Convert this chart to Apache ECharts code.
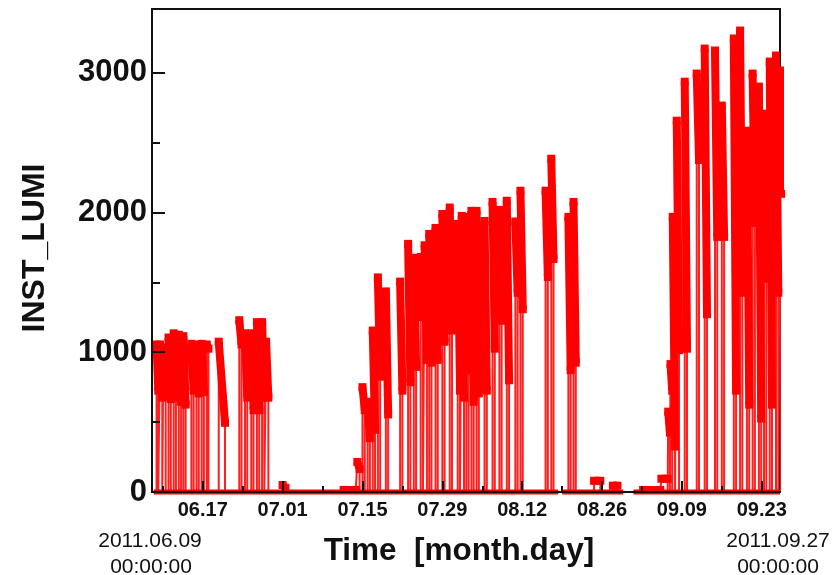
<!DOCTYPE html>
<html>
<head>
<meta charset="utf-8">
<script src="https://cdn.jsdelivr.net/npm/echarts@6/dist/echarts.min.js"></script>
<style>html,body{margin:0;padding:0;background:#fff}#c{width:833px;height:575px}</style>
</head>
<body>
<div id="c"></div>
<script>
// x values are days since 2011-06-09 00:00
const fillStart = [-0.1,0.5,1.1,2.0,2.9,3.8,4.6,6.0,6.9,7.8,8.7,10.8,14.4,15.4,16.5,17.5,18.4,19.1,22.0,
  32.7,35.1,36.0,36.9,37.8,38.7,40.1,42.6,44.0,45.0,46.2,46.9,47.7,48.8,50.0,51.3,52.7,53.4,54.2,55.1,56.0,57.4,58.8,60.0,61.3,62.8,63.7,68.1,69.1,72.1,73.0,
  76.6,79.9,85.2,88.4,89.6,90.0,90.4,91.1,92.5,94.6,96.0,97.8,99.0,101.1,102.2,103.4,104.4,105.5,106.4,107.4,108.5,109.2];
const fillEnd = [0.2,0.9,1.5,2.4,3.3,4.2,5.0,6.4,7.3,8.2,9.0,11.9,14.8,15.8,16.9,17.9,18.8,19.5,22.5,
  34.8,35.5,36.4,37.3,38.2,39.1,40.5,43.0,44.4,45.4,46.6,47.3,48.1,49.2,50.4,51.7,53.1,53.8,54.6,55.5,56.4,57.8,59.2,60.4,61.7,63.2,64.1,68.5,69.5,72.5,73.4,
  77.7,80.7,88.2,89.5,89.9,90.3,90.8,91.5,92.9,95.0,96.4,98.2,99.4,101.5,102.6,103.8,104.8,105.9,106.8,107.8,108.9,109.4];
const fillPeak = [1055,1055,1035,1105,1135,1125,1115,1060,1055,1060,1055,1075,1229,1135,1135,1215,1215,1075,50,
  15,215,750,645,1155,1535,1435,1505,1775,1675,1681,1765,1846,1889,1989,2035,1918,1975,1968,2011,2011,1939,2075,2018,2083,1935,2155,2155,2384,1968,2075,
  80,45,15,95,575,915,1968,2656,2935,2993,3172,3158,2764,3244,3301,2584,2993,2900,2706,3079,3122,3015];
const fillLast = [725,675,685,665,675,645,625,725,705,715,1025,495,1055,675,585,585,675,675,30,
  15,165,585,385,445,825,555,725,785,895,1251,945,925,945,1075,1155,725,675,871,645,705,725,1025,1225,799,1425,1308,1538,1667,871,925,
  80,45,15,95,425,725,325,1015,1025,2375,1272,1825,1825,725,1425,625,1925,525,1525,625,1425,2133];
// intervals where the recorded value sits at zero
const zeroStart = [-0.6, 71.0, 83.5];
const zeroEnd = [70.3, 81.7, 109.2];
// axis ticks
const majorTickDays = [8,22,36,50,64,78,92,106];
const minorTickDays = [1,15,29,43,57,71,85,99];
const yTicks = [0,1000,2000,3000];

function dayLabel(d){
  const t = new Date(Date.UTC(2011,5,9) + d*86400000);
  const m = String(t.getUTCMonth()+1).padStart(2,'0');
  const dd = String(t.getUTCDate()).padStart(2,'0');
  return m + '.' + dd;
}

const thin = [], thick = [], zero = [];
for (let i = 0; i < fillStart.length; i++) {
  thin.push([fillStart[i],0],[fillStart[i],fillPeak[i]],[fillEnd[i],fillLast[i]],[fillEnd[i],0]);
  thick.push([fillStart[i],fillPeak[i]],[fillEnd[i],fillLast[i]],[fillEnd[i],null]);
}
for (let i = 0; i < zeroStart.length; i++) {
  zero.push([zeroStart[i],0],[zeroEnd[i],0],[zeroEnd[i],null]);
}

const FONT = 'Liberation Sans';
const chart = echarts.init(document.getElementById('c'), null, {renderer:'canvas'});
chart.setOption({
  animation: false,
  backgroundColor: '#fff',
  grid: {left:152, right:53, top:9, bottom:83, show:true, borderColor:'#111', borderWidth:2, backgroundColor:'transparent'},
  xAxis: [{
    type:'value', min:-0.9, max:109.2, position:'bottom', z:10,
    axisLine:{show:true, onZero:false, lineStyle:{color:'#111', width:2}},
    axisTick:{show:true, inside:true, length:11, customValues:majorTickDays, lineStyle:{color:'#111', width:2}},
    axisLabel:{show:true, customValues:majorTickDays, margin:8, formatter:function(v){return dayLabel(v);},
      fontFamily:FONT, fontWeight:'bold', fontSize:20, color:'#111'},
    splitLine:{show:false}
  },{
    type:'value', min:-0.9, max:109.2, position:'bottom', z:10,
    axisLine:{show:false, onZero:false},
    axisTick:{show:true, inside:true, length:6, customValues:minorTickDays, lineStyle:{color:'#111', width:2}},
    axisLabel:{show:false},
    splitLine:{show:false}
  }],
  yAxis: {
    type:'value', min:0, max:3455, interval:1000, z:10, position:'left',
    axisLine:{show:true, onZero:false, lineStyle:{color:'#111', width:2}},
    axisTick:{show:true, inside:true, length:13, lineStyle:{color:'#111', width:2}},
    minorTick:{show:true, splitNumber:2, length:8, lineStyle:{color:'#111', width:2}},
    axisLabel:{margin:5, fontFamily:FONT, fontWeight:'bold', fontSize:31, color:'#111',
      formatter:function(v){return yTicks.indexOf(v) >= 0 ? String(v) : '';}},
    splitLine:{show:false}
  },
  series: [
    {type:'line', data:thin, xAxisIndex:0, symbol:'none', clip:false, z:2,
      lineStyle:{color:'#ff2020', width:2}, silent:true},
    {type:'line', data:zero, xAxisIndex:0, symbol:'none', clip:false, connectNulls:false, z:3,
      lineStyle:{color:'#ff0000', width:5, cap:'butt'}, silent:true},
    {type:'line', data:thick, xAxisIndex:0, symbol:'rect', symbolSize:8, showSymbol:true, showAllSymbol:true,
      clip:false, connectNulls:false, z:4,
      itemStyle:{color:'#ff0000', borderWidth:0},
      lineStyle:{color:'#ff0000', width:8, cap:'butt', join:'miter'}, silent:true}
  ],
  graphic: [
    {type:'text', x:35, y:248, rotation:Math.PI/2, style:{text:'INST_LUMI', font:'bold 32px "Liberation Sans"', fill:'#111', textAlign:'center', textVerticalAlign:'middle'}},
    {type:'text', x:459, y:551, style:{text:'Time  [month.day]', font:'bold 31.5px "Liberation Sans"', fill:'#111', textAlign:'center', textVerticalAlign:'middle'}},
    {type:'text', x:150, y:541, style:{text:'2011.06.09', font:'21px "Liberation Sans"', fill:'#111', textAlign:'center', textVerticalAlign:'middle'}},
    {type:'text', x:151, y:567, style:{text:'00:00:00', font:'21px "Liberation Sans"', fill:'#111', textAlign:'center', textVerticalAlign:'middle'}},
    {type:'text', x:778, y:541, style:{text:'2011.09.27', font:'21px "Liberation Sans"', fill:'#111', textAlign:'center', textVerticalAlign:'middle'}},
    {type:'text', x:778, y:567, style:{text:'00:00:00', font:'21px "Liberation Sans"', fill:'#111', textAlign:'center', textVerticalAlign:'middle'}}
  ]
});
</script>
</body>
</html>
